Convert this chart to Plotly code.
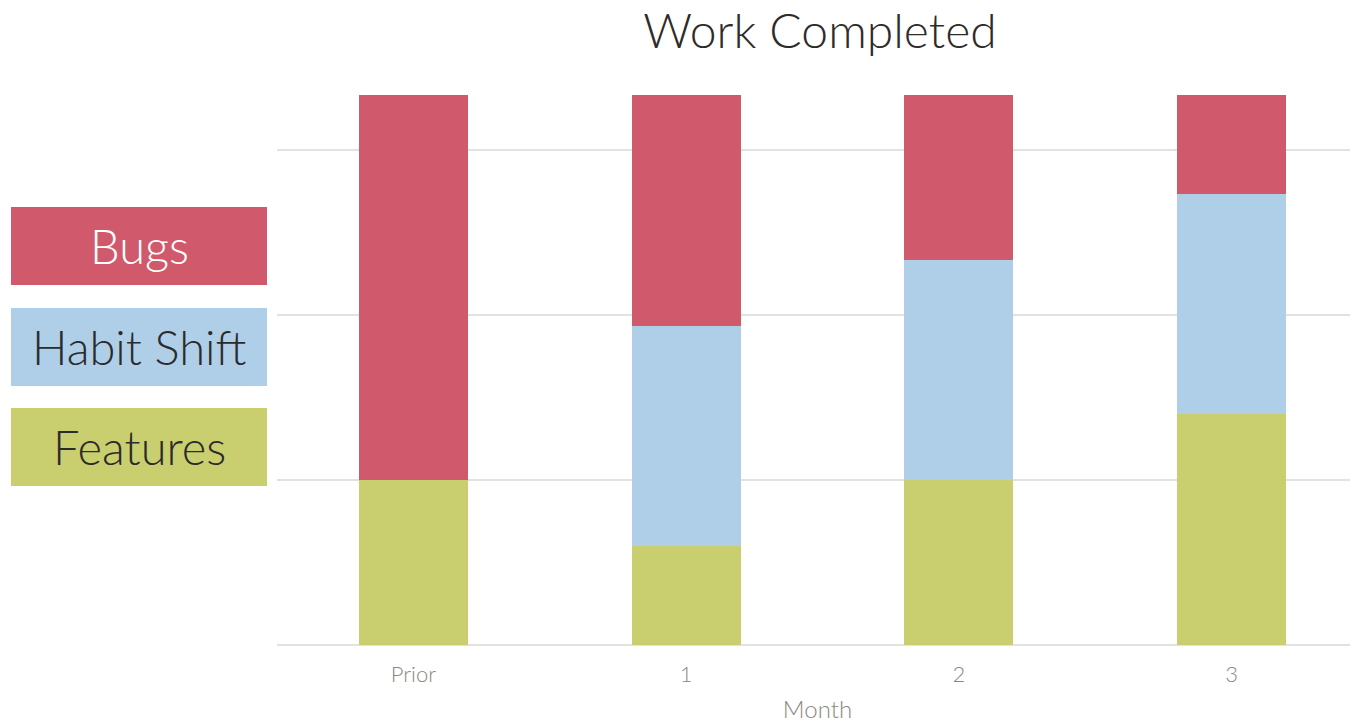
import plotly.graph_objects as go

# ---- data ----
months = ["Prior", "1", "2", "3"]
features = [30, 18, 30, 42]
habit_shift = [0, 40, 40, 40]
bugs = [70, 42, 30, 18]

series_names = ["Features", "Habit Shift", "Bugs"]
series_values = [features, habit_shift, bugs]
series_colors = ["#C9CE6F", "#AFCFE8", "#D05A6C"]
legend_text_colors = ["#2B2B2B", "#2B2B2B", "#FFFFFF"]

FONT = "Lato"
OFF = 8  # page body margin
W, H = 1358 - OFF, 723 - OFF
ML, MR, MT, MB = 277 - OFF, 0, 95 - OFF, 78
PW, PH = W - ML - MR, H - MT - MB

fig = go.Figure()
for name, vals, col in zip(series_names, series_values, series_colors):
    fig.add_trace(go.Bar(
        x=months, y=vals, name=name,
        marker=dict(color=col, line=dict(width=0)),
        width=0.4, showlegend=False,
    ))


def px_to_paper_x(px):
    return (px - OFF - ML) / PW


def px_to_paper_y(py):
    return (H - MB - (py - OFF)) / PH


# custom legend boxes on the left
box_left, box_right = 11, 267
box_tops = [408, 308, 207]  # Features, Habit Shift, Bugs
box_h = 78
shapes = []
annotations = []
for name, col, tcol, top in zip(series_names, series_colors, legend_text_colors, box_tops):
    shapes.append(dict(
        type="rect", xref="paper", yref="paper",
        x0=px_to_paper_x(box_left), x1=px_to_paper_x(box_right),
        y0=px_to_paper_y(top + box_h), y1=px_to_paper_y(top),
        fillcolor=col, line=dict(width=0), layer="above",
    ))
    annotations.append(dict(
        text=name, xref="paper", yref="paper",
        x=px_to_paper_x((box_left + box_right) / 2),
        y=px_to_paper_y(top + box_h / 2),
        xanchor="center", yanchor="middle", showarrow=False,
        font=dict(family=FONT, size=47, color=tcol, weight=300),
    ))

fig.update_layout(
    width=W, height=H,
    margin=dict(l=ML, r=MR, t=MT, b=MB, pad=0),
    barmode="stack",
    paper_bgcolor="white", plot_bgcolor="white",
    title=dict(
        text="Work Completed", x=px_to_paper_x(820), xref="paper", xanchor="center",
        y=1 - (31 - OFF) / H, yanchor="middle",
        font=dict(family=FONT, size=48, color="#2E2B28", weight=300),
    ),
    xaxis=dict(
        type="category", range=[-0.5, 3.463],
        showgrid=False, zeroline=False, showline=False,
        ticks="", ticklabelstandoff=14,
        tickfont=dict(family=FONT, size=22, color="#8C877F", weight=300),
        title=dict(text="Month", font=dict(family=FONT, size=24, color="#8C877F", weight=300),
                   standoff=16),
    ),
    yaxis=dict(
        range=[0, 100], dtick=30, tick0=0,
        showticklabels=False, ticks="",
        showgrid=True, gridcolor="#E3E2DE", gridwidth=2,
        zeroline=True, zerolinecolor="#E3E2DE", zerolinewidth=2,
        showline=False,
    ),
    shapes=shapes,
    annotations=annotations,
)

fig.write_html("out.html")
